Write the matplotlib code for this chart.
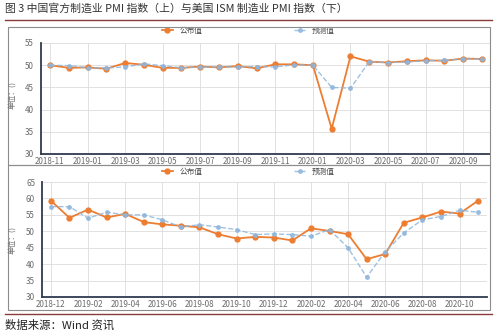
import matplotlib
matplotlib.use("Agg")
import matplotlib.pyplot as plt
from matplotlib.patches import Rectangle
from matplotlib.lines import Line2D

plt.rcParams['font.family'] = ['Noto Sans CJK SC', 'DejaVu Sans']

# 中国官方制造业PMI
cn_months = ['2018-11', '2018-12', '2019-01', '2019-02', '2019-03', '2019-04',
             '2019-05', '2019-06', '2019-07', '2019-08', '2019-09', '2019-10',
             '2019-11', '2019-12', '2020-01', '2020-02', '2020-03', '2020-04',
             '2020-05', '2020-06', '2020-07', '2020-08', '2020-09', '2020-10']
cn_actual = [50.0, 49.4, 49.5, 49.2, 50.5, 50.1, 49.4, 49.4, 49.7, 49.5, 49.8, 49.3,
             50.2, 50.2, 50.0, 35.7, 52.0, 50.8, 50.6, 50.9, 51.1, 51.0, 51.5, 51.4]
cn_forecast = [50.0, 49.9, 49.4, 49.4, 49.6, 50.3, 49.9, 49.4, 49.6, 49.6, 49.6, 49.7,
               49.6, 50.1, 50.0, 45.0, 44.8, 50.8, 50.6, 50.7, 51.0, 51.1, 51.4, 51.4]

# 美国ISM制造业PMI
us_months = ['2018-12', '2019-01', '2019-02', '2019-03', '2019-04', '2019-05',
             '2019-06', '2019-07', '2019-08', '2019-09', '2019-10', '2019-11',
             '2019-12', '2020-01', '2020-02', '2020-03', '2020-04', '2020-05',
             '2020-06', '2020-07', '2020-08', '2020-09', '2020-10', '2020-11']
us_actual = [59.3, 54.1, 56.6, 54.2, 55.3, 52.8, 52.1, 51.7, 51.2, 49.1, 47.8, 48.3,
             48.1, 47.2, 50.9, 50.1, 49.1, 41.5, 43.1, 52.6, 54.2, 56.0, 55.4, 59.3]
us_forecast = [57.5, 57.5, 54.0, 55.8, 55.0, 55.0, 53.5, 51.3, 52.0, 51.3, 50.5, 49.0,
               49.2, 49.0, 48.5, 50.5, 45.0, 36.0, 43.8, 49.5, 53.5, 54.5, 56.4, 55.8]

title = '图 3 中国官方制造业 PMI 指数（上）与美国 ISM 制造业 PMI 指数（下）'
source = '数据来源：Wind 资讯'

W, H = 499, 335
orange = '#ED7D31'
blue = '#8FB6DD'
spine_c = '#2E3A4E'
grid_c = '#DCDCDC'
txt_c = '#6B6B6B'

fig = plt.figure(figsize=(W / 100, H / 100), dpi=100)


def box(x0, y0, x1, y1):
    # 像素坐标 -> figure 坐标
    return [x0 / W, 1 - y1 / H, (x1 - x0) / W, (y1 - y0) / H]


# 标题和分隔线
fig.text(5 / W, 1 - 8 / H, title, fontsize=7.8, color='#333333', va='center', ha='left')
fig.add_artist(Line2D([5 / W, 492 / W], [1 - 20 / H, 1 - 20 / H], color='#8B3A3A', lw=1.0))
fig.add_artist(Line2D([5 / W, 492 / W], [1 - 314 / H, 1 - 314 / H], color='#8B3A3A', lw=1.0))
fig.text(5 / W, 1 - 325 / H, source, fontsize=8.2, color='#222222', va='center', ha='left')

# 面板边框
for y0, y1 in [(27, 165), (165, 310)]:
    b = box(8, y0, 490, y1)
    fig.add_artist(Rectangle((b[0], b[1]), b[2], b[3], transform=fig.transFigure,
                             fill=False, edgecolor='#8C8C8C', lw=0.8))


def draw_panel(rect, months, actual, forecast, ylim, xlim, legend_y, ylabel_y):
    ax = fig.add_axes(rect)
    x = list(range(len(months)))
    ax.plot(x, actual, color=orange, lw=1.3, marker='o', markersize=3.5, zorder=3, label='公布值')
    ax.plot(x, forecast, color=blue, lw=1.0, ls='--', marker='o', markersize=2.5,
            alpha=0.85, zorder=4, label='预测值')
    ax.set_xlim(*xlim)
    ax.set_ylim(*ylim)
    ax.set_yticks(range(ylim[0], ylim[1] + 1, 5))
    ax.set_xticks(x[::2])
    ax.set_xticklabels(months[::2])
    ax.grid(True, color=grid_c, lw=0.6)
    ax.set_axisbelow(True)
    for s in ['top', 'right']:
        ax.spines[s].set_visible(False)
    for s in ['left', 'bottom']:
        ax.spines[s].set_color(spine_c)
        ax.spines[s].set_linewidth(1.3)
    ax.tick_params(axis='y', length=0, labelsize=5.8, labelcolor=txt_c, pad=5)
    ax.tick_params(axis='x', length=0, labelsize=5.8, labelcolor=txt_c, pad=2)
    fig.text(12 / W, 1 - ylabel_y / H, '单位：()', rotation=90, fontsize=5.5,
             color=txt_c, va='center', ha='center')
    ax.legend(loc='center', bbox_to_anchor=(248 / W, 1 - legend_y / H),
              bbox_transform=fig.transFigure, ncol=2, frameon=False, fontsize=5.5,
              handlelength=1.5, columnspacing=12, labelcolor='#444444',
              borderpad=0.1, borderaxespad=0)
    return ax


draw_panel(box(41, 43, 490, 154), cn_months, cn_actual, cn_forecast,
           (30, 55), (-0.48, 23.43), 31, 95)
draw_panel(box(42, 182, 487, 297), us_months, us_actual, us_forecast,
           (30, 65), (-0.48, 23.48), 172, 240)

fig.savefig('out.png', dpi=100)
